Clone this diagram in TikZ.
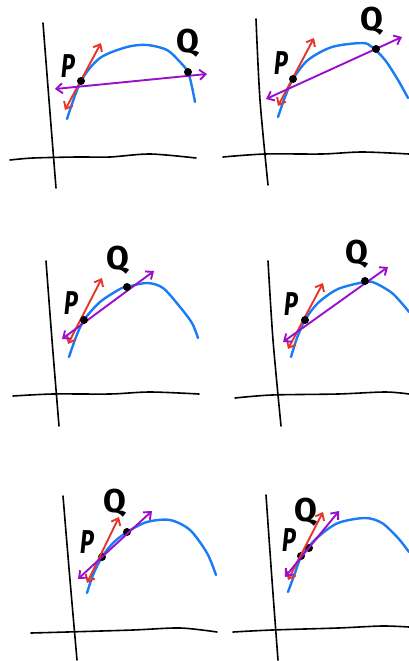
\documentclass[tikz,border=0pt]{standalone}
\usepackage{fontspec}
\setmainfont{Fira Sans}
\usetikzlibrary{arrows.meta}
\definecolor{curveblue}{HTML}{1A7CF5}
\definecolor{tanred}{HTML}{E8352A}
\definecolor{secpurple}{HTML}{9B0FCC}
\tikzset{
  axis/.style={line width=1.6pt, line cap=round, black},
  curve/.style={line width=2.4pt, line cap=round, curveblue},
  tangent/.style={line width=1.9pt, line cap=round, tanred, {Straight Barb[length=6pt,width=10pt]}-{Straight Barb[length=6pt,width=10pt]}},
  secant/.style={line width=1.9pt, line cap=round, secpurple, {Straight Barb[length=6pt,width=10pt]}-{Straight Barb[length=6pt,width=10pt]}},
  pt/.style={circle, fill=black, inner sep=0pt, minimum size=8pt},
  plabel/.style={font=\fontsize{33}{33}\selectfont\bfseries, inner sep=0pt, xscale=0.7, xslant=0.15, transform shape},
  qlabel/.style={font=\fontsize{33}{33}\selectfont\bfseries, inner sep=0pt},
}
\begin{document}
\begin{tikzpicture}[x=1pt,y=-1pt]
\useasboundingbox (0,0) rectangle (409,661);
% ---------- Panel 1 ----------
\draw[axis] plot[smooth] coordinates {(43,23) (49,100) (56,188)};
\draw[axis] plot[smooth] coordinates {(10,160) (33,158) (77,157) (110,157) (150,154) (196,158)};
\draw[curve] plot[smooth] coordinates {(67,119) (81,81) (100,58) (127,47) (147,45) (167,50) (180,62) (188,72) (192,87) (195,102)};
\coordinate (t1a) at (65,110); \coordinate (t1b) at (101,43);
\coordinate (s1a) at (55,89); \coordinate (s1b) at (207,74);
\draw[tangent] (t1a) -- (t1b);
\draw[secant] (s1a) -- (s1b);
\node[pt] (P1) at (81,81) {};
\node[pt] (Q1) at (188,72) {};
\node[plabel] (LP1) at (69,66) {P};
\node[qlabel] (LQ1) at (188,43) {Q};
% ---------- Panel 2 ----------
\draw[axis] plot[smooth] coordinates {(256,19) (260,100) (268,185)};
\draw[axis] plot[smooth] coordinates {(223,157) (265,154) (322,154) (362,152) (409,154)};
\draw[curve] plot[smooth] coordinates {(278,117) (285,97) (293,79) (308,60) (332,47) (362,43) (372,47) (385,60) (398,80) (408,98)};
\coordinate (t2a) at (278,106); \coordinate (t2b) at (314,38);
\coordinate (s2a) at (266,99); \coordinate (s2b) at (402,37);
\draw[tangent] (t2a) -- (t2b);
\draw[secant] (s2a) -- (s2b);
\node[pt] (P2) at (293,79) {};
\node[pt] (Q2) at (376,49) {};
\node[plabel] (LP2) at (282,63) {P};
\node[qlabel] (LQ2) at (372,21) {Q};
% ---------- Panel 3 ----------
\draw[axis] plot[smooth] coordinates {(46,261) (52,340) (59,426)};
\draw[axis] plot[smooth] coordinates {(13,396) (53,394) (110,394) (150,392) (199,394)};
\draw[curve] plot[smooth] coordinates {(69,357) (76,337) (84,320) (100,302) (120,289) (127,287) (147,283) (163,288) (180,307) (192,323) (198,338)};
\coordinate (t3a) at (68,344); \coordinate (t3b) at (102,278);
\coordinate (s3a) at (62,339); \coordinate (s3b) at (154,271);
\draw[tangent] (t3a) -- (t3b);
\draw[secant] (s3a) -- (s3b);
\node[pt] (P3) at (84,320) {};
\node[pt] (Q3) at (127,287) {};
\node[plabel] (LP3) at (72,303) {P};
\node[qlabel] (LQ3) at (118,260) {Q};
% ---------- Panel 4 ----------
\draw[axis] plot[smooth] coordinates {(268,261) (273,340) (281,426)};
\draw[axis] plot[smooth] coordinates {(235,398) (272,395) (338,394) (385,392) (409,394)};
\draw[curve] plot[smooth] coordinates {(291,357) (297,338) (305,320) (318,303) (338,289) (365,282) (375,283) (392,293) (405,307) (409,312)};
\coordinate (t4a) at (288,349); \coordinate (t4b) at (323,283);
\coordinate (s4a) at (283,342); \coordinate (s4b) at (388,267);
\draw[tangent] (t4a) -- (t4b);
\draw[secant] (s4a) -- (s4b);
\node[pt] (P4) at (305,320) {};
\node[pt] (Q4) at (365,281) {};
\node[plabel] (LP4) at (292,304) {P};
\node[qlabel] (LQ4) at (357,254) {Q};
% ---------- Panel 5 ----------
\draw[axis] plot[smooth] coordinates {(63,496) (70,580) (77,660)};
\draw[axis] plot[smooth] coordinates {(31,633) (67,632) (133,630) (180,628) (217,632)};
\draw[curve] plot[smooth] coordinates {(87,593) (93,575) (102,557) (113,543) (127,532) (147,522) (170,520) (190,530) (207,553) (216,575)};
\coordinate (t5a) at (87,583); \coordinate (t5b) at (119,517);
\coordinate (s5a) at (78,579); \coordinate (s5b) at (152,511);
\node[pt] (P5) at (102,557) {};
\node[pt] (Q5) at (127,532) {};
\node[plabel] (LP5) at (88,542) {P};
\node[qlabel] (LQ5) at (115,503) {Q};
\draw[tangent] (t5a) -- (t5b);
\draw[secant] (s5a) -- (s5b);
% ---------- Panel 6 ----------
\draw[axis] plot[smooth] coordinates {(266,495) (272,580) (278,660)};
\draw[axis] plot[smooth] coordinates {(233,632) (272,630) (338,628) (382,626) (409,627)};
\draw[curve] plot[smooth] coordinates {(288,592) (295,573) (302,555) (318,537) (338,523) (365,518) (382,523) (398,538) (409,552)};
\coordinate (t6a) at (288,580); \coordinate (t6b) at (323,512);
\coordinate (s6a) at (285,577); \coordinate (s6b) at (339,511);
\node[pt] (P6) at (301,556) {};
\node[pt] (Q6) at (309,548) {};
\node[plabel] (LP6) at (290,540) {P};
\node[qlabel] (LQ6) at (306,512) {Q};
\draw[tangent] (t6a) -- (t6b);
\draw[secant] (s6a) -- (s6b);
\end{tikzpicture}
\end{document}
